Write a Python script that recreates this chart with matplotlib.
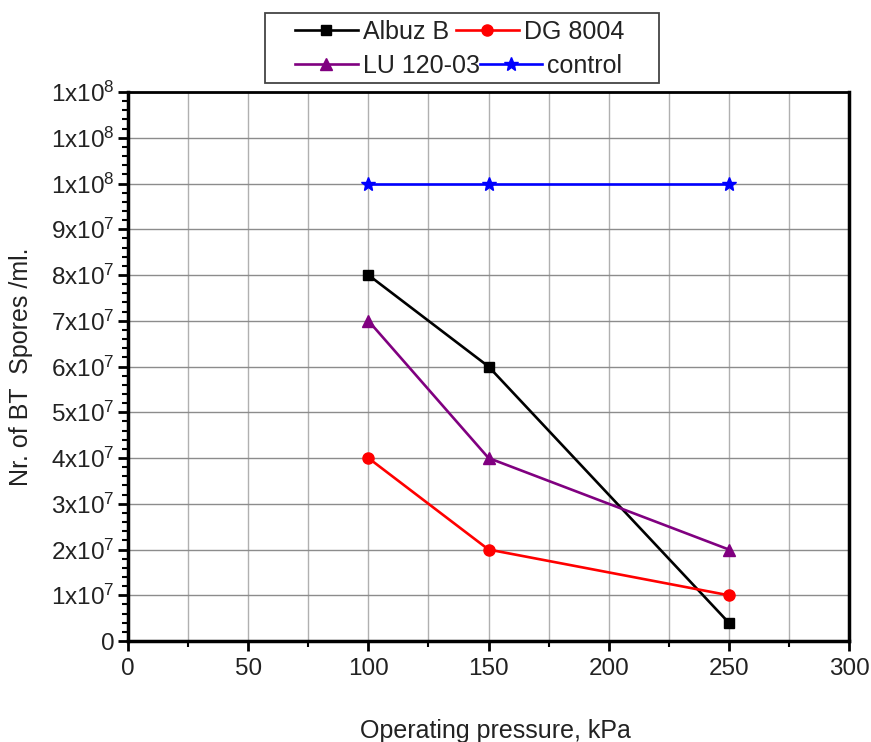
import matplotlib
matplotlib.use("Agg")
import matplotlib.pyplot as plt
from matplotlib.ticker import MultipleLocator
from matplotlib.patches import Rectangle

plt.rcParams['font.family'] = ['Liberation Sans', 'DejaVu Sans']
plt.rcParams['mathtext.fontset'] = 'custom'
plt.rcParams['mathtext.rm'] = 'Liberation Sans'
plt.rcParams['mathtext.it'] = 'Liberation Sans'

pressure = [100, 150, 250]
albuz_b = [8e7, 6e7, 4e6]
dg_8004 = [4e7, 2e7, 1e7]
lu_120_03 = [7e7, 4e7, 2e7]
control = [1e8, 1e8, 1e8]

y_ticks = [0, 1e7, 2e7, 3e7, 4e7, 5e7, 6e7, 7e7, 8e7, 9e7, 1e8, 1.1e8, 1.2e8]
y_tick_labels = ['0', r'$1\mathrm{x}10^{7}$', r'$2\mathrm{x}10^{7}$', r'$3\mathrm{x}10^{7}$',
                 r'$4\mathrm{x}10^{7}$', r'$5\mathrm{x}10^{7}$', r'$6\mathrm{x}10^{7}$',
                 r'$7\mathrm{x}10^{7}$', r'$8\mathrm{x}10^{7}$', r'$9\mathrm{x}10^{7}$',
                 r'$1\mathrm{x}10^{8}$', r'$1\mathrm{x}10^{8}$', r'$1\mathrm{x}10^{8}$']
x_ticks = [0, 50, 100, 150, 200, 250, 300]

text_color = '#222222'
W, H = 871, 742

fig = plt.figure(figsize=(W / 100, H / 100), dpi=100)
ax = fig.add_axes([0.147, 0.1361, 0.8277, 0.7399])

lw = 1.9
h1, = ax.plot(pressure, albuz_b, color='black', marker='s', markersize=7, lw=lw, label='Albuz B', zorder=5)
h2, = ax.plot(pressure, dg_8004, color='#ff0000', marker='o', markersize=8, lw=lw, label='DG 8004', zorder=5)
h3, = ax.plot(pressure, lu_120_03, color='#800080', marker='^', markersize=9, lw=lw, label='LU 120-03', zorder=5)
h4, = ax.plot(pressure, control, color='#0000ff', marker='*', markersize=10, lw=lw, label='control', zorder=5)

ax.set_xlim(0, 300)
ax.set_ylim(0, 1.2e8)
ax.set_xticks(x_ticks)
ax.set_xticklabels([str(v) for v in x_ticks])
ax.xaxis.set_minor_locator(MultipleLocator(25))
ax.set_yticks(y_ticks)
ax.set_yticklabels(y_tick_labels)
ax.yaxis.set_minor_locator(MultipleLocator(2e6))

ax.tick_params(axis='both', which='major', labelsize=17.5, width=2, length=7,
               direction='out', labelcolor=text_color)
ax.tick_params(axis='both', which='minor', width=1.5, length=4, direction='out')
ax.tick_params(axis='y', which='major', pad=3)
ax.tick_params(axis='x', which='major', pad=5)

ax.grid(True, which='major', axis='y', color='#8c8c8c', lw=1.0)
ax.grid(True, which='both', axis='x', color='#b0b0b0', lw=1.0)
ax.set_axisbelow(True)

for side in ['left', 'bottom', 'right']:
    ax.spines[side].set_linewidth(2.5)
ax.spines['top'].set_linewidth(2.0)

ax.set_xlabel('Operating pressure, kPa', fontsize=18, color=text_color, va='top')
ax.xaxis.set_label_coords(0.51, -0.142)
ax.set_ylabel('Nr. of BT  Spores /ml.', fontsize=18, color=text_color)
ax.yaxis.set_label_coords(-0.132, 0.5)

# Legend: two rows in one frame, each row laid out on its own
leg_kw = dict(ncol=2, loc='center left', bbox_transform=fig.transFigure, fontsize=18,
              frameon=False, handlelength=2.5, handletextpad=0.2, borderpad=0.0,
              borderaxespad=0.0)
leg1 = fig.legend(handles=[h1, h2], bbox_to_anchor=(295 / W, 1 - 32 / H),
                  columnspacing=0.3, **leg_kw)
leg2 = fig.legend(handles=[h3, h4], bbox_to_anchor=(295 / W, 1 - 66 / H),
                  columnspacing=0.0, **leg_kw)
for leg in (leg1, leg2):
    for t in leg.get_texts():
        t.set_color(text_color)

fig.add_artist(Rectangle((265 / W, 1 - 83 / H), (659 - 265) / W, 70 / H,
                         transform=fig.transFigure, fill=False,
                         edgecolor='#444444', lw=1.3))

fig.savefig('out.png', dpi=100)
